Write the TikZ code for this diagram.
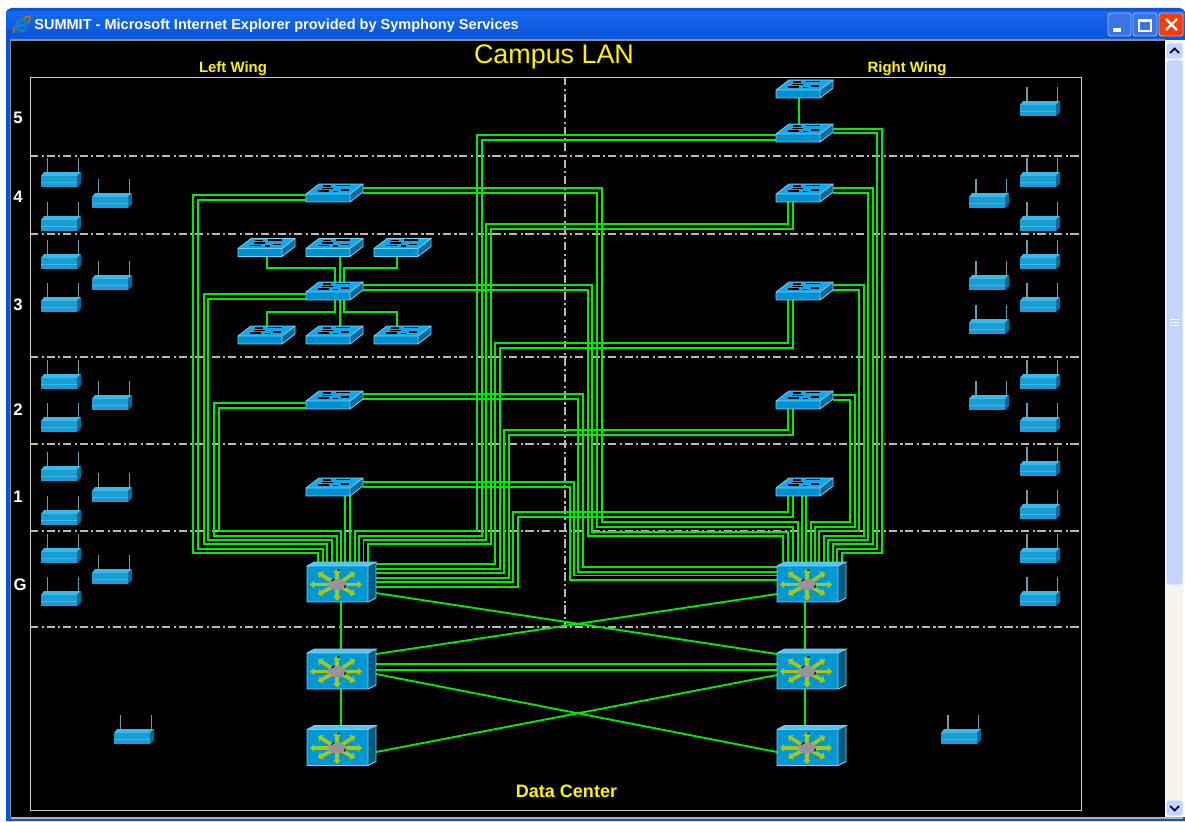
\documentclass[tikz,border=0pt]{standalone}
\usepackage{fontspec}
\setmainfont{Liberation Sans}
\usetikzlibrary{arrows.meta,calc}
\definecolor{linkGreen}{HTML}{00EE00}
\definecolor{swFront}{HTML}{0090D0}
\definecolor{swTop}{HTML}{12A8F0}
\definecolor{swSide}{HTML}{006C9C}
\definecolor{swEdge}{HTML}{78D4F4}
\definecolor{coreFront}{HTML}{0098D4}
\definecolor{coreSide}{HTML}{005C84}
\definecolor{coreRay}{HTML}{A4C814}
\definecolor{coreHub}{HTML}{9A929A}
\definecolor{apFront}{HTML}{1C9CD2}
\definecolor{apTop}{HTML}{34BCEC}
\definecolor{apStem}{HTML}{6C9CB0}
\definecolor{xpBlue}{HTML}{0A54DC}
\definecolor{xpLight}{HTML}{1468EC}
\definecolor{xpBtn}{HTML}{3C74E4}
\definecolor{barThumb}{HTML}{C4D4FC}
\definecolor{barTrack}{HTML}{F6F4EA}
\tikzset{
  lnk/.style={linkGreen, line width=1.05pt},
  gridln/.style={white!72!black, line width=0.6pt, dash pattern=on 4.6pt off 2pt on 1.2pt off 1.6pt},
  swbox/.style={inner sep=0pt, outer sep=0pt, minimum width=1.14cm, minimum height=0.36cm},
  corebox/.style={inner sep=0pt, outer sep=0pt, minimum width=1.38cm, minimum height=0.80cm},
  wing/.style={font=\fontsize{8.5}{10}\selectfont\bfseries, text=yellow, inner sep=0pt},
  tier/.style={font=\fontsize{9.5}{11}\selectfont\bfseries, text=white, inner sep=0pt},
  winbtn/.style={rounded corners=1.5pt, draw=white!60!xpBlue, line width=0.5pt},
  switchicon/.pic={
    \fill[swTop] (-28.5,1) -- (15.5,1) -- (28.5,-9) -- (-15.5,-9) -- cycle;
    \fill[swSide] (15.5,1) -- (28.5,-9) -- (28.5,-1) -- (15.5,9) -- cycle;
    \fill[swFront] (-28.5,1) rectangle (15.5,9);
    \draw[black, line width=1pt] (-17,-2) -- (-6,-2) (-13,-4.5) -- (-2,-4.5) (-12,-7) -- (-4,-7) (1,-7.5) -- (15,-7.5) (6,-3) -- (14,-3) (-2,-1.5) -- (3,-1.5);
    \draw[swEdge, line width=0.45pt] (-28.5,1) -- (15.5,1) -- (15.5,9) -- (-28.5,9) -- cycle
      (-28.5,1) -- (-15.5,-9) -- (28.5,-9) -- (15.5,1) (28.5,-9) -- (28.5,-1) -- (15.5,9);
  },
  coreicon/.pic={
    \fill[swTop!70!white] (-34.5,-16) -- (-27,-20) -- (34.5,-20) -- (26.5,-16) -- cycle;
    \fill[coreSide] (26.5,-16) -- (34.5,-20) -- (34.5,16) -- (26.5,20) -- cycle;
    \fill[coreFront] (-34.5,-16) rectangle (26.5,20);
    \draw[swEdge, line width=0.5pt] (-34.5,-16) rectangle (26.5,20)
      (-34.5,-16) -- (-27,-20) -- (34.5,-20) -- (26.5,-16) (34.5,-20) -- (34.5,16) -- (26.5,20);
    \foreach \dx/\dy in {0/-16,0/16,-27/0,25/0,18/-12,-19/-12,-19/10,18/10}
      \draw[coreRay, line width=2.1pt, -{Triangle[length=2.4pt,width=4.6pt]}] (-4.5,2.5) -- ++(\dx,\dy);
    \fill[coreHub] (-4.5,2.5) ellipse [x radius=9, y radius=5.5];
    \draw[black, line width=0.6pt] (-10,-1) -- (-7,-3) (4,3) -- (3,6) (-4.5,-12) -- (-2,-12);
  },
  apicon/.pic={
    \draw[apStem, line width=0.9pt] (-13.3,-22) -- (-13.3,-6) (17.3,-22) -- (17.3,-6);
    \fill[apTop] (-20,-4) -- (16,-4) -- (20,-8) -- (-17,-8) -- cycle;
    \fill[swSide] (16,-4) -- (20,-8) -- (20,3) -- (16,7) -- cycle;
    \fill[apFront] (-20,-4) rectangle (16,7);
    \draw[apTop, line width=0.5pt] (-20,2) -- (16,2);
  }
}
\begin{document}
\begin{tikzpicture}[x=0.02cm,y=-0.02cm]
  \useasboundingbox (0,0) rectangle (1185,821);
  % window
  \fill[white] (0,0) rectangle (1185,821);
  \fill[xpBlue, rounded corners=3pt] (6,8) rectangle (1185,30);
  \fill[top color=xpLight, bottom color=xpBlue] (6,12) rectangle (1185,40);
  \fill[xpBlue] (6,30) rectangle (11,821) (6,817) rectangle (1185,821);
  \fill[black!45] (10,39) rectangle (1165,41) (10,39) rectangle (11,817);
  \fill[black] (11,41) rectangle (1165,817);
  \fill[black!30] (11,817) rectangle (1183,818.5);
  \fill[barTrack] (1165,41) rectangle (1183,817);
  \fill[barThumb, draw=white, line width=0.4pt, rounded corners=1pt] (1166,60) rectangle (1183,585);
  \fill[barThumb, draw=white, line width=0.4pt, rounded corners=1pt] (1166,43) rectangle (1183,59);
  \fill[barThumb, draw=white, line width=0.4pt, rounded corners=1pt] (1166,800) rectangle (1183,816);
  \draw[black!70!blue, line width=1pt] (1170,53) -- (1174.5,48.5) -- (1179,53) (1170,806) -- (1174.5,810.5) -- (1179,806);
  \draw[white, line width=0.4pt] (1170,319) -- (1179,319) (1170,322) -- (1179,322) (1170,325) -- (1179,325);
  % title bar
  \draw[orange!85!black, line width=0.8pt] (14,33) .. controls (12,27) and (22,17) .. (30,16) .. controls (30,20) and (29,22) .. (27,24);
  \draw[cyan!60!blue, line width=1.9pt] (26,29) arc [start angle=40, end angle=350, radius=5.5];
  \draw[cyan!60!blue, line width=1.3pt] (16,25.5) -- (27,25.5);
  \node[inner sep=0pt, anchor=west, text=white, font=\fontsize{8.27}{10}\selectfont\bfseries] (wintitle) at (34,26) {SUMMIT - Microsoft Internet Explorer provided by Symphony Services};
  \fill[xpBtn, winbtn] (1108,13) rectangle (1131,36);
  \fill[xpBtn, winbtn] (1133,13) rectangle (1157,36);
  \fill[red!55!orange, winbtn] (1159,13) rectangle (1183,36);
  \fill[white] (1113,28) rectangle (1121,32);
  \draw[white, line width=0.8pt] (1139,20) rectangle (1151,31) (1139,21) -- (1151,21);
  \draw[white, line width=1.3pt] (1166,19) -- (1177,30) (1177,19) -- (1166,30);
  % frame and tiers
  \draw[white!80!black, line width=0.5pt] (30,77) rectangle (1081,810);
  \foreach \y in {156,234,357,444,531,627}
    \draw[gridln] (30,\y) -- (1081,\y);
  \draw[gridln] (565,77) -- (565,627);
  % devices
  \foreach \nm/\x/\y in {swL4/334.5/193,swL3/334.5/291,swL2/334.5/400,swL1/334.5/487,
      swA1/266.5/247.5,swA2/334.5/247.5,swA3/402.5/247.5,swB1/266.5/335,swB2/334.5/335,swB3/402.5/335,
      swR6/804.5/89,swR5/804.5/133,swR4/804.5/193,swR3/804.5/291,swR2/804.5/400,swR1/804.5/487}
    \node[swbox] (\nm) at (\x,\y) {};
  \foreach \nm/\x/\y in {coreLG/341.5/582,coreLC/341.5/669,coreLD/341.5/745.5,coreRG/811.5/582,coreRC/811.5/669,coreRD/811.5/745.5}
    \node[corebox] (\nm) at (\x,\y) {};
  % links, left core
  \foreach \sw/\ya/\xa/\yb/\xb in {swL4/195/193/553/318,swL4/200/198/549/323,swL3/294/204/544/327,swL3/299/208/540/332,swL2/403/214/536/337,swL2/408/219/531/341}
    \draw[lnk] (\sw.west |- 0,\ya) -| (\xa,\yb) -| (\xb,0 |- coreLG.north);
  \draw[lnk] (swR5.west |- 0,135) -| (477,531) -| (355,0 |- coreLG.north);
  \draw[lnk] (swR5.west |- 0,140) -| (482,536) -| (359,0 |- coreLG.north);
  \draw[lnk] (788,0 |- swR4.south) |- (486,224) |- (363.5,540) -- (363.5,0 |- coreLG.north);
  \draw[lnk] (793,0 |- swR4.south) |- (491,229) |- (368,544) -- (368,0 |- coreLG.north);
  \foreach \sw/\xs/\ya/\xa/\yb in {swR3/788/343/495/564,swR3/793/348/500/569,swR2/788/430/504/573,swR2/793/435/509/578,swR1/788/512/513/582,swR1/793/517/518/587}
    \draw[lnk] (\xs,0 |- \sw.south) |- (\xa,\ya) |- (coreLG.east |- 0,\yb);
  \draw[lnk] (345,0 |- swL1.south) -- (345,0 |- coreLG.north);
  \draw[lnk] (350,0 |- swL1.south) -- (350,0 |- coreLG.north);
  % links, right core
  \foreach \sw/\ya/\xa/\yb/\xb in {swL4/188/602/522/798,swL4/193/597/527/793,swL3/285/592/532/788,swL3/290/588/536/783}
    \draw[lnk] (\sw.east |- 0,\ya) -| (\xa,\yb) -| (\xb,0 |- coreRG.north);
  \foreach \sw/\ya/\xa/\yb in {swL2/394/583/567,swL2/399/578/572,swL1/482/574/575.5,swL1/487/570/580}
    \draw[lnk] (\sw.east |- 0,\ya) -| (\xa,\yb) -- (coreRG.west |- 0,\yb);
  \foreach \sw/\ya/\xa/\yb/\xb in {swR2/395/855/527/815,swR2/400/850/522/811,swR3/285/864/536/824,swR3/290/859/531/819,swR4/188/873/544/833,swR4/193/868/540/828,swR5/129/882/553/842,swR5/133/877/549/837}
    \draw[lnk] (\sw.east |- 0,\ya) -| (\xa,\yb) -| (\xb,0 |- coreRG.north);
  \draw[lnk] (802,0 |- swR1.south) -- (802,0 |- coreRG.north);
  \draw[lnk] (806,0 |- swR1.south) -- (806,0 |- coreRG.north);
  \draw[lnk] (799,0 |- swR6.south) -- (799,0 |- swR5.north);
  % links around the third-floor switch
  \draw[lnk] (267,0 |- swA1.south) |- (335,268) -- (335,0 |- swL3.north);
  \draw[lnk] (340,0 |- swA2.south) -- (340,0 |- swL3.north);
  \draw[lnk] (397,0 |- swA3.south) |- (344,268) -- (344,0 |- swL3.north);
  \draw[lnk] (267,0 |- swB1.north) |- (335,312) -- (335,0 |- swL3.south);
  \draw[lnk] (340,0 |- swB2.north) -- (340,0 |- swL3.south);
  \draw[lnk] (397,0 |- swB3.north) |- (344,312) -- (344,0 |- swL3.south);
  % core mesh
  \draw[lnk] (341,0 |- coreLG.south) -- (341,0 |- coreLC.north);
  \draw[lnk] (341,0 |- coreLC.south) -- (341,0 |- coreLD.north);
  \draw[lnk] (805,0 |- coreRG.south) -- (805,0 |- coreRC.north);
  \draw[lnk] (805,0 |- coreRC.south) -- (805,0 |- coreRD.north);
  \draw[lnk] (coreLG.east |- 0,593) -- (coreRC.west |- 0,654);
  \draw[lnk] (coreLC.east |- 0,654) -- (coreRG.west |- 0,594);
  \draw[lnk] (coreLC.east |- 0,664) -- (coreRC.west |- 0,664);
  \draw[lnk] (coreLC.east |- 0,670) -- (coreRC.west |- 0,670);
  \draw[lnk] (coreLC.east |- 0,674) -- (coreRD.west |- 0,752);
  \draw[lnk] (coreLD.east |- 0,752) -- (coreRC.west |- 0,675);
  % icons
  \foreach \nm in {swL4,swL3,swL2,swL1,swA1,swA2,swA3,swB1,swB2,swB3,swR6,swR5,swR4,swR3,swR2,swR1}
    \pic at (\nm) {switchicon};
  \foreach \nm in {coreLG,coreLC,coreLD,coreRG,coreRC,coreRD}
    \pic at (\nm) {coreicon};
  \foreach \x/\y in {61/180,61/224,61/262,61/305,61/382,61/425,61/474,61/518,61/556,61/599,
      112/201,112/283,112/403,112/495,112/577,134/737,961/737,
      989/201,989/283,989/327,989/403,
      1040/109,1040/180,1040/224,1040/262,1040/305,1040/382,1040/425,1040/469,1040/512,1040/556,1040/599}
    \pic at (\x,\y) {apicon};
  % labels
  \node[inner sep=0pt, text=yellow, font=\fontsize{15.3}{18}\selectfont] (campus) at (554,56.5) {Campus LAN};
  \node[wing] (leftwing) at (233,68.5) {Left Wing};
  \node[wing] (rightwing) at (907,68.5) {Right Wing};
  \node[inner sep=0pt, text=yellow, font=\fontsize{10.25}{12}\selectfont\bfseries] (datacenter) at (566.5,791) {Data Center};
  \foreach \nm/\t/\x/\y in {tier5/5/18/118,tier4/4/18/197,tier3/3/18/305,tier2/2/18/410,tier1/1/18/497,tierG/G/20/585}
    \node[tier] (\nm) at (\x,\y) {\t};
\end{tikzpicture}
\end{document}
